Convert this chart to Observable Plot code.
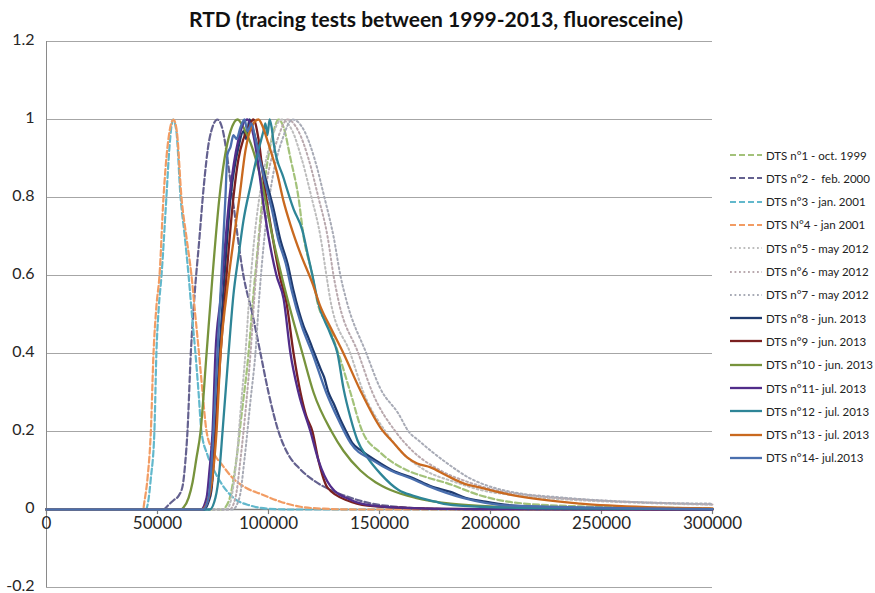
<!DOCTYPE html>
<html><head><meta charset="utf-8">
<script src="https://cdn.jsdelivr.net/npm/d3@7"></script>
<script src="https://cdn.jsdelivr.net/npm/@observablehq/plot@0.6"></script>
<style>
body{margin:0;background:#fff;}
#wrap{position:relative;width:875px;height:593px;font-family:Lato,sans-serif;overflow:hidden;}
#title{position:absolute;left:0;width:872px;top:6px;text-align:center;font-weight:bold;font-size:21px;color:#111;}
#legend{position:absolute;left:0;top:0;width:875px;height:593px;pointer-events:none;}
.li{position:absolute;left:729px;width:146px;height:16px;display:flex;align-items:center;font-size:11.5px;color:#222;white-space:pre;}
.li svg{margin-right:3px;flex:none;}
</style></head><body>
<div id="wrap"><div id="chart"></div><div id="title">RTD (tracing tests between 1999-2013, fluoresceine)</div><div id="legend"></div></div>
<script>
const xTicks = [0,50000,100000,150000,200000,250000,300000];
const yTicks = [-0.2,0,0.2,0.4,0.6,0.8,1,1.2];

const labels = ["DTS n°1 - oct. 1999","DTS n°2 -  feb. 2000","DTS n°3 - jan. 2001","DTS N°4 - jan 2001",
"DTS n°5 - may 2012","DTS n°6 - may 2012","DTS n°7 - may 2012","DTS n°8 - jun. 2013","DTS n°9 - jun. 2013",
"DTS n°10 - jun. 2013","DTS n°11- jul. 2013","DTS n°12 - jul. 2013","DTS n°13 - jul. 2013","DTS n°14- jul.2013"];
const colors = ["#a3c27a","#64618f","#62b8cc","#f29c63","#bdbdbd","#b9a9ae","#a8abb6","#1f3a6e","#7a2020",
"#77933c","#512d8a","#2e8597","#c9691f","#4a6fae"];
const styles = ["dash","dash","dash","dash","dot","dot","dot","solid","solid","solid","solid","solid","solid","solid"];

const dts1 = [[0,0],[79000,0],[82000,0.02],[85100,0.11],[88000,0.25],[91000,0.4],[93200,0.55],[95000,0.66],[96800,0.77],[99500,0.89],[102300,0.97],[104500,1],[106800,0.98],[109900,0.9],[113500,0.8],[115800,0.7],[119800,0.6],[122100,0.53],[127000,0.47],[131500,0.4],[136900,0.3],[142300,0.2],[150400,0.146],[162600,0.1],[171000,0.083],[180600,0.067],[195500,0.036],[210400,0.018],[240500,0.008],[270000,0.005],[300000,0.003]];
const dts2 = [[0,0],[52500,0],[55000,0.012],[57500,0.025],[59500,0.035],[61300,0.06],[62500,0.12],[63500,0.2],[65000,0.4],[66700,0.55],[68800,0.69],[70700,0.82],[73400,0.95],[77000,1],[79500,0.97],[81500,0.9],[83800,0.8],[88700,0.6],[92800,0.5],[96400,0.4],[100000,0.3],[104500,0.2],[109000,0.14],[114000,0.105],[121000,0.072],[128000,0.05],[134000,0.036],[145000,0.017],[160000,0.006],[180000,0.001],[200000,0],[300000,0]];
const dts3 = [[0,0],[44800,0],[45800,0.02],[47000,0.08],[48600,0.2],[49500,0.4],[50600,0.52],[51800,0.6],[54000,0.8],[55400,0.93],[57000,1],[58500,0.97],[60400,0.8],[62300,0.7],[64000,0.6],[65500,0.5],[67100,0.4],[68500,0.3],[69800,0.2],[72500,0.14],[75500,0.1],[78400,0.07],[84200,0.03],[91900,0.01],[100000,0.002],[110000,0],[300000,0]];
const dts4 = [[0,0],[43500,0],[44100,0.02],[45500,0.08],[47000,0.2],[48200,0.4],[49500,0.52],[50900,0.6],[52700,0.8],[54500,0.93],[57200,1],[58700,0.97],[60800,0.8],[63000,0.7],[65300,0.6],[67000,0.5],[68700,0.4],[70300,0.3],[72100,0.2],[75000,0.15],[79700,0.11],[84000,0.08],[90000,0.055],[96400,0.04],[105400,0.02],[114400,0.007],[125000,0.002],[140000,0],[300000,0]];
const dts5 = [[0,0],[81100,0],[83300,0.03],[85600,0.13],[87800,0.28],[89600,0.4],[91400,0.55],[93700,0.7],[97300,0.85],[101400,0.95],[105900,1],[110800,0.97],[114900,0.9],[119400,0.8],[123400,0.7],[126100,0.6],[127900,0.536],[136900,0.4],[142800,0.3],[152700,0.2],[159500,0.15],[170700,0.1],[184200,0.07],[195500,0.05],[213500,0.035],[236000,0.025],[263100,0.018],[300000,0.012]];
const dts6 = [[0,0],[82400,0],[85100,0.03],[87400,0.13],[90100,0.28],[91900,0.4],[93700,0.55],[95900,0.7],[99500,0.85],[104100,0.95],[108600,1],[113500,0.97],[118000,0.9],[122500,0.8],[126600,0.7],[129300,0.6],[131500,0.536],[140500,0.4],[146800,0.3],[157200,0.2],[164900,0.15],[177500,0.1],[190100,0.07],[202300,0.05],[220300,0.035],[242800,0.025],[269800,0.018],[300000,0.013]];
const dts7 = [[0,0],[83800,0],[86900,0.03],[89200,0.13],[91900,0.28],[94100,0.4],[95900,0.55],[98200,0.7],[101800,0.85],[106300,0.95],[110800,1],[116200,0.97],[120700,0.9],[125200,0.8],[129300,0.7],[132400,0.6],[135100,0.536],[144100,0.4],[150400,0.31],[158600,0.245],[163100,0.2],[167600,0.177],[180600,0.118],[190100,0.082],[201400,0.056],[210400,0.044],[231500,0.031],[261700,0.02],[300000,0.015]];
const dts8 = [[0,0],[71000,0],[73000,0.02],[74300,0.05],[76100,0.2],[77900,0.4],[80200,0.6],[82900,0.8],[86500,0.93],[88700,0.97],[90000,0.95],[91400,1],[93200,0.97],[96400,0.9],[98600,0.85],[102300,0.77],[105400,0.69],[108600,0.63],[111300,0.56],[115800,0.47],[118000,0.44],[120700,0.4],[123500,0.36],[125000,0.34],[127000,0.3],[129500,0.27],[132400,0.23],[135000,0.2],[137800,0.17],[142000,0.15],[148200,0.126],[155900,0.1],[165300,0.08],[173000,0.06],[182000,0.045],[188700,0.03],[197700,0.02],[210400,0.01],[231500,0.005],[267600,0.002],[300000,0.001]];
const dts9 = [[0,0],[70500,0],[72500,0.02],[74300,0.06],[76100,0.2],[78400,0.4],[81100,0.6],[84200,0.8],[86500,0.9],[88700,0.95],[91000,0.98],[93200,1],[95500,0.95],[97700,0.85],[101800,0.7],[105000,0.6],[108100,0.53],[111300,0.4],[114400,0.3],[117000,0.24],[119800,0.2],[122500,0.126],[126600,0.056],[135600,0.023],[144600,0.01],[168500,0.003],[204500,0.001],[300000,0]];
const dts10 = [[0,0],[60500,0],[61700,0.005],[64000,0.03],[65800,0.07],[67500,0.13],[69400,0.2],[72100,0.4],[74800,0.6],[77900,0.8],[80200,0.9],[82900,0.97],[86000,1],[89600,0.97],[91900,0.94],[97300,0.83],[101800,0.7],[106300,0.59],[110400,0.5],[115300,0.4],[120300,0.3],[128400,0.2],[133800,0.15],[141400,0.1],[148200,0.07],[155000,0.05],[166200,0.03],[182000,0.015],[204500,0.007],[240500,0.003],[300000,0.001]];
const dts11 = [[0,0],[69500,0],[72100,0.03],[73400,0.1],[74800,0.2],[76100,0.4],[78400,0.54],[79300,0.6],[82400,0.8],[86500,0.95],[90500,1],[92800,0.97],[95000,0.9],[97300,0.8],[100000,0.7],[103600,0.6],[106800,0.54],[109900,0.4],[113500,0.3],[118900,0.2],[122500,0.126],[127900,0.06],[136900,0.025],[146800,0.01],[168500,0.003],[204500,0.001],[300000,0]];
const dts12 = [[0,0],[73500,0],[76100,0.03],[77900,0.1],[79300,0.2],[82000,0.4],[84200,0.55],[86500,0.65],[88700,0.74],[91900,0.83],[95000,0.91],[97700,0.97],[98600,0.99],[99500,0.96],[100500,1],[101400,0.98],[102300,0.94],[106800,0.85],[111300,0.77],[115300,0.715],[117600,0.656],[119800,0.6],[122100,0.536],[127900,0.45],[131100,0.4],[133800,0.31],[136900,0.236],[140100,0.177],[144600,0.133],[150400,0.092],[158600,0.05],[165300,0.035],[175200,0.02],[180600,0.013],[195500,0.007],[227000,0.003],[300000,0.001]];
const dts13 = [[0,0],[70000,0],[72500,0.02],[74500,0.07],[76600,0.2],[78400,0.4],[81100,0.55],[83300,0.65],[86900,0.8],[89600,0.92],[92300,0.98],[95500,1],[97500,0.98],[99500,0.946],[104000,0.86],[106800,0.79],[109900,0.73],[114400,0.656],[119800,0.58],[123400,0.52],[127900,0.467],[133800,0.4],[141400,0.305],[150400,0.21],[156500,0.17],[162600,0.133],[167000,0.118],[173000,0.108],[180000,0.088],[187800,0.067],[195500,0.056],[210400,0.036],[240500,0.015],[270700,0.006],[300000,0.003]];
const dts14 = [[0,0],[70500,0],[73000,0.03],[75200,0.2],[77000,0.4],[78800,0.6],[80600,0.8],[81500,0.91],[82900,0.93],[84200,0.96],[85600,0.95],[87400,0.98],[89200,1],[90500,0.97],[92300,0.99],[94100,0.95],[96000,0.9],[98000,0.85],[101500,0.77],[104500,0.69],[107800,0.63],[110500,0.56],[115000,0.47],[119800,0.4],[126000,0.3],[131500,0.23],[137000,0.17],[147000,0.126],[155000,0.1],[164000,0.08],[172000,0.06],[187500,0.03],[209000,0.01],[300000,0.001]];

const series = [dts1,dts2,dts3,dts4,dts5,dts6,dts7,dts8,dts9,dts10,dts11,dts12,dts13,dts14];
const dashFor = s => s === "dash" ? "6,3" : s === "dot" ? "1.8,2.7" : null;
const widthFor = s => s === "solid" ? 2.3 : s === "dot" ? 2 : 2.2;

const fmt = d => String(+d.toFixed(1));

const lineMarks = series.map((data, i) => Plot.line(data, {
  x: d => d[0], y: d => d[1], stroke: colors[i],
  strokeWidth: widthFor(styles[i]),
  strokeDasharray: dashFor(styles[i]), curve: "monotone-x"
}));

const chart = Plot.plot({
  width: 875, height: 593,
  marginLeft: 46, marginRight: 163, marginTop: 41, marginBottom: 6,
  x: {domain: [0, 300000], axis: null},
  y: {domain: [-0.2, 1.2]},
  style: {fontFamily: "Lato, sans-serif", fontSize: "16px", background: "white", color: "#262626"},
  marks: [
    Plot.ruleY(yTicks.filter(d => d !== 0), {stroke: "#a6a6a6", strokeWidth: 1}),
    Plot.ruleX([0], {stroke: "#8a8a8a", strokeWidth: 1}),
    Plot.axisY({ticks: yTicks, tickSize: 0, tickPadding: 12, tickFormat: fmt, fontSize: 16, dy: -1.5}),
    Plot.ruleY([0], {stroke: "#7f7f7f", strokeWidth: 1.3}),
    Plot.ruleX(xTicks, {x: d => d, y1: 0, y2: -0.013, stroke: "#7f7f7f", strokeWidth: 1.2}),
    Plot.text(xTicks, {x: d => d, y: 0, dy: 14, text: d => String(d), fontSize: 17, fill: "#262626"}),
    ...lineMarks
  ]
});
document.getElementById("chart").appendChild(chart);

const leg = d3.select("#legend");
labels.forEach((lab, i) => {
  const row = leg.append("div").attr("class", "li").style("top", (147 + i * 23.3) + "px");
  const svg = row.append("svg").attr("width", 34).attr("height", 10);
  svg.append("line").attr("x1", 1).attr("x2", 33).attr("y1", 5).attr("y2", 5)
    .attr("stroke", colors[i]).attr("stroke-width", widthFor(styles[i]))
    .attr("stroke-dasharray", dashFor(styles[i]));
  row.append("span").text(lab);
});
</script>
</body></html>
